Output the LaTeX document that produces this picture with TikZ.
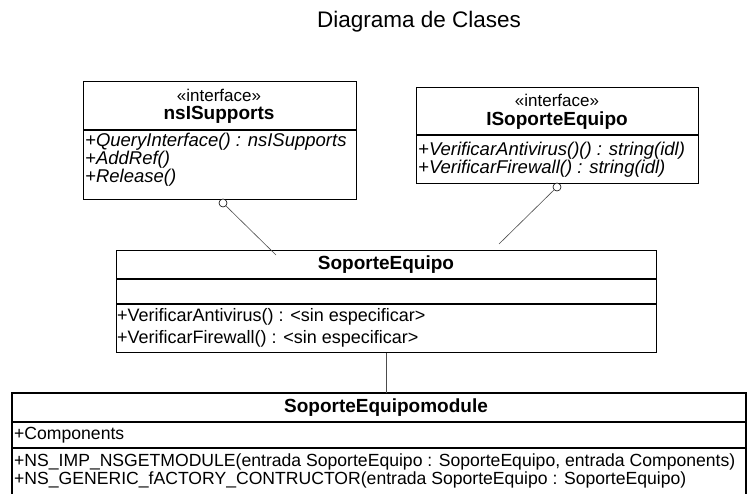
\documentclass[tikz,border=0pt]{standalone}
\usepackage{fontspec}
\setmainfont{Liberation Sans}
\usetikzlibrary{positioning}

\tikzset{
  classbox/.style={draw, line width=1.1pt, minimum width=#1, inner sep=0pt, anchor=north west},
  member/.style={anchor=west, inner sep=0pt, font=\fontsize{18}{18}\selectfont},
  modmember/.style={member, font=\fontsize{17.6}{17.6}\selectfont},
  imember/.style={member, font=\fontsize{18.5}{18.5}\selectfont\itshape},
  cname/.style={inner sep=0pt, font=\fontsize{19}{19}\selectfont\bfseries},
  stereo/.style={inner sep=0pt, font=\fontsize{17}{17}\selectfont},
  lollipop/.style={draw, circle, fill=white, inner sep=0pt, minimum size=8pt, line width=0.6pt},
  link/.style={draw=black!70, line width=0.6pt}
}

\begin{document}
\begin{tikzpicture}[x=1pt, y=-1pt]
  \useasboundingbox (0,0) rectangle (747,493);

  \node[inner sep=0pt, font=\fontsize{22.5}{22.5}\selectfont] (title) at (419,22) {Diagrama de Clases};

  % interface nsISupports
  \node[classbox=273pt, minimum height=118pt] (supports) at (83,81) {};
  \draw[line width=1.1pt] (83,130) -- (356,130);
  \node[stereo] (supportsst) at (219,95) {«interface»};
  \node[cname] (supportsname) at (219,115) {nsISupports};
  \foreach \y/\t in {142/{+QueryInterface() : nsISupports}, 160/{+AddRef()}, 178/{+Release()}}
    \node[imember] at (85,\y) {\t};

  % interface ISoporteEquipo
  \node[classbox=282pt, minimum height=96pt] (isoporte) at (416,87) {};
  \draw[line width=1.1pt] (416,135) -- (698,135);
  \node[stereo] (isoportest) at (557,100) {«interface»};
  \node[cname] (isoportename) at (557,121) {ISoporteEquipo};
  \foreach \y/\t in {151/{+VerificarAntivirus()() : string(idl)}, 169/{+VerificarFirewall() : string(idl)}}
    \node[imember] at (418,\y) {\t};

  % class SoporteEquipo
  \node[classbox=540pt, minimum height=102pt] (soporte) at (116,250) {};
  \draw[line width=1.1pt] (116,279) -- (656,279);
  \draw[line width=1.1pt] (116,304) -- (656,304);
  \node[cname] (soportename) at (386,265) {SoporteEquipo};
  \foreach \y/\t in {317/{+VerificarAntivirus() : <sin especificar>}, 339/{+VerificarFirewall() : <sin especificar>}}
    \node[member] at (117,\y) {\t};

  % class SoporteEquipomodule
  \coordinate (moduletop) at (386,393);
  \draw[line width=1.1pt] (12,500) -- (12,393) -- (746,393) -- (746,500);
  \draw[line width=1.1pt] (12,422) -- (746,422);
  \draw[line width=1.1pt] (12,448) -- (746,448);
  \node[cname] (modulename) at (386,408) {SoporteEquipomodule};
  \node[modmember] (modulecomp) at (14,435) {+Components};
  \node[modmember] (modulem1) at (14,462) {+NS\_IMP\_NSGETMODULE(entrada SoporteEquipo : SoporteEquipo, entrada Components)};
  \node[modmember] (modulem2) at (14,480) {+NS\_GENERIC\_fACTORY\_CONTRUCTOR(entrada SoporteEquipo : SoporteEquipo)};

  % realizations
  \node[lollipop] (supportsball) at (223,203) {};
  \node[lollipop] (isoporteball) at (557,187) {};
  \coordinate (leftend) at (276,255);
  \coordinate (rightend) at (499,244);
  \draw[link] (supportsball) -- (leftend);
  \draw[link] (isoporteball) -- (rightend);
  \draw[link] (soporte.south -| moduletop) -- (moduletop);
\end{tikzpicture}
\end{document}
